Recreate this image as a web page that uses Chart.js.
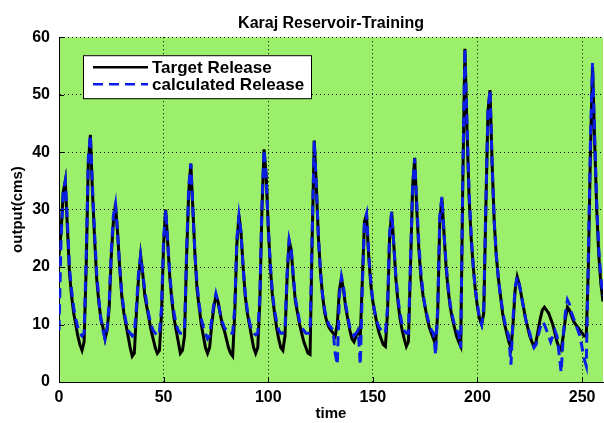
<!DOCTYPE html>
<html>
<head>
<meta charset="utf-8">
<title>Karaj Reservoir-Training</title>
<script src="https://cdn.jsdelivr.net/npm/chart.js@4.4.1/dist/chart.umd.min.js"></script>
<style>
  html, body { margin: 0; padding: 0; background: #fff; }
  #wrap { width: 604px; height: 423px; }
</style>
</head>
<body>
<div id="wrap"><canvas id="releaseChart" width="604" height="423"></canvas></div>
<script>
// values, one per time step (0..260)
const target = [
  22, 26, 33, 35, 27, 19, 15, 12, 10, 8,
  6.5, 5.5, 7, 20, 38, 43, 33, 25, 18, 14,
  11, 9.5, 7.5, 9, 13, 22, 28, 31, 26, 20,
  15, 12, 10, 8, 6, 4.5, 5, 12, 18, 22,
  19, 15, 13, 11, 9, 7.5, 6, 5, 5.5, 12,
  24, 30, 24, 18, 14, 11, 9, 7, 5, 5.5,
  8, 22, 33, 38, 30, 22, 16, 13, 10, 8,
  6, 5, 6, 10, 13, 15, 14, 12, 10, 9,
  7.5, 6, 5, 4.5, 12, 24, 29, 26, 20, 15,
  12, 10, 8, 6, 5, 6, 14, 30, 40.5, 36,
  27, 20, 15, 12, 9.5, 7.5, 6, 5.5, 8, 18,
  24.5, 23, 18, 14, 12, 10, 8.5, 7, 6, 5,
  4.8, 25, 42, 34, 25, 19, 15, 12, 10.5, 9.5,
  9, 8.5, 8, 10, 16, 18, 16, 13, 11, 9,
  7.5, 7, 8, 9, 8, 18, 28, 29, 22, 17,
  14, 12, 10, 8.5, 7.5, 6.5, 6.2, 12, 25, 29.6,
  24, 18, 14, 11, 9, 7.5, 6.2, 7, 20, 34,
  39, 30, 23, 18, 15, 13, 11, 9.5, 8.5, 7.5,
  6.5, 12, 28, 32, 26, 20, 16, 13, 11, 9.5,
  8, 7, 6.2, 35, 58, 44, 32, 25, 20, 16,
  13, 11, 10, 12, 30, 47, 50.8, 38, 28, 22,
  18, 15, 12, 10, 8.5, 7, 6, 10, 16, 18.3,
  17, 15, 13, 11, 9.5, 8, 7, 6.2, 7, 9,
  11, 12.5, 13, 12.5, 12, 11, 10, 8.5, 7, 6,
  5.6, 8, 11, 13, 12.5, 11.5, 10.5, 10, 9.5, 9,
  8.5, 8, 8, 20, 40, 55, 42, 30, 22, 17, 14
];

const calculated = [
  9, 25, 33, 35, 28, 20, 16, 13, 11, 9.5,
  8.5, 8, 8.5, 22, 39, 43, 34, 26, 19, 14.5,
  11, 9, 7.5, 9.5, 14, 23, 29, 31, 26, 20,
  15.5, 12.5, 10.5, 9, 8.5, 8, 8.5, 13, 19, 22,
  19, 16, 13.5, 11.5, 10, 9, 8.5, 8, 8.5, 13,
  25, 30, 24, 18.5, 14.5, 12, 10, 9, 8.5, 8.5,
  9, 23, 34, 38, 30, 22, 17, 13.5, 11, 9.5,
  8.5, 7.5, 8, 11, 13.5, 15.4, 14, 12, 10.5, 9.5,
  9, 8.5, 8.5, 8.5, 13, 25, 29, 26, 20, 15.5,
  12.5, 10.5, 9, 8.5, 8.2, 8.5, 15, 31, 40.5, 36,
  27, 20.5, 15.5, 12.5, 10.5, 9, 8.5, 8.5, 9, 19,
  24.7, 23, 18.5, 14.5, 12.5, 10.5, 9.5, 9, 8.5, 8.5,
  8.5, 26, 42, 34, 25, 19, 15, 12.5, 11, 10,
  9.5, 9, 5, 3, 15, 18.3, 16.5, 13.5, 11.5, 9.5,
  8.5, 8, 8.5, 9, 3, 17, 28, 29.3, 22.5, 17.5,
  14, 12, 10.5, 9.5, 9, 8.5, 8.5, 13, 26, 29.6,
  24, 18.5, 14.5, 12, 10, 9, 8.5, 8.5, 21, 34,
  38.9, 31, 24, 19, 15.5, 13, 11.5, 10, 9, 8.5,
  4.7, 13, 29, 32.2, 26, 20.5, 16.5, 13.5, 11.5, 10,
  9, 8.5, 5.9, 36, 58, 45, 33, 25.5, 20, 16,
  13.5, 11, 10, 13, 31, 47, 50.8, 38, 28, 22,
  18, 15, 12.5, 10.5, 9, 8, 3, 11, 16.5, 18.3,
  17, 15, 13, 11, 9.5, 8.5, 7, 6, 6.5, 8,
  9.5, 10.5, 10, 9, 8, 7, 8, 9, 8, 5,
  1.7, 8, 12, 14.3, 13.5, 12, 11, 10, 9, 8,
  6, 4, 2.8, 22, 42, 55.5, 43, 31, 23, 18, 15
];

const xTicks = [0, 50, 100, 150, 200, 250];
const yTicks = [0, 10, 20, 30, 40, 50, 60];
const seriesNames = ['Target Release', 'calculated Release'];

const toPoints = arr => arr.map((v, i) => ({ x: i, y: v }));

Chart.defaults.font.family = "'Liberation Sans', Arial, sans-serif";
Chart.defaults.font.weight = 'bold';
Chart.defaults.color = '#000';

// green plot background, inward ticks and the boxed legend
const matlabLook = {
  id: 'matlabLook',
  beforeDraw(chart) {
    const { ctx, chartArea: a } = chart;
    ctx.save();
    ctx.fillStyle = '#9cef6b';
    ctx.fillRect(a.left, a.top, a.right - a.left, a.bottom - a.top);
    ctx.restore();
  },
  afterDraw(chart) {
    const { ctx, chartArea: a, scales } = chart;
    ctx.save();
    ctx.strokeStyle = '#000';
    ctx.lineWidth = 1;
    ctx.beginPath();
    yTicks.forEach(v => {
      const y = Math.round(scales.y.getPixelForValue(v)) + 0.5;
      ctx.moveTo(a.left, y); ctx.lineTo(a.left + 5, y);
    });
    xTicks.forEach(v => {
      const x = Math.round(scales.x.getPixelForValue(v)) + 0.5;
      ctx.moveTo(x, a.bottom); ctx.lineTo(x, a.bottom - 5);
    });
    ctx.stroke();

    // legend box
    const bx = a.left + 24, by = a.top + 18, bw = 228, bh = 43;
    ctx.fillStyle = '#fff';
    ctx.fillRect(bx, by, bw, bh);
    ctx.strokeRect(bx + 0.5, by + 0.5, bw, bh);
    const rows = [by + 12, by + 29];
    chart.data.datasets.forEach((ds, i) => {
      ctx.beginPath();
      ctx.lineWidth = 2.5;
      ctx.strokeStyle = ds.borderColor;
      ctx.setLineDash(ds.borderDash || []);
      ctx.moveTo(bx + 10, rows[i]);
      ctx.lineTo(bx + 65, rows[i]);
      ctx.stroke();
      ctx.setLineDash([]);
      ctx.fillStyle = '#000';
      ctx.font = "bold 17px 'Liberation Sans', Arial, sans-serif";
      ctx.textBaseline = 'middle';
      ctx.fillText(ds.label, bx + 69, rows[i] + 1);
    });
    ctx.restore();
  }
};

const ctx = document.getElementById('releaseChart').getContext('2d');
const releaseChart = new Chart(ctx, {
  type: 'line',
  data: {
    datasets: [{
      label: seriesNames[0],
      data: toPoints(target),
      borderColor: '#000000',
      borderWidth: 3,
      pointRadius: 0,
      tension: 0,
      order: 2
    }, {
      label: seriesNames[1],
      data: toPoints(calculated),
      borderColor: '#0a1ee6',
      borderWidth: 3,
      borderDash: [10, 6],
      pointRadius: 0,
      tension: 0,
      order: 1
    }]
  },
  options: {
    responsive: false,
    animation: false,
    devicePixelRatio: 1,
    layout: { padding: { left: 0, right: 1, top: 0, bottom: 0 } },
    plugins: {
      legend: { display: false },
      tooltip: { enabled: false },
      title: {
        display: true,
        fullSize: false,
        text: 'Karaj Reservoir-Training',
        font: { size: 16, weight: 'bold' },
        color: '#000',
        padding: { top: 14, bottom: 4 }
      }
    },
    scales: {
      x: {
        type: 'linear',
        min: 0,
        max: 260,
        afterBuildTicks: s => { s.ticks = xTicks.map(v => ({ value: v })); },
        afterFit: s => { s.height = 41; },
        grid: { color: '#000', lineWidth: 1, drawTicks: false },
        border: { display: true, color: '#000', width: 1, dash: [1, 3] },
        ticks: { padding: 6, font: { size: 16, weight: 'bold' }, color: '#000', maxRotation: 0 },
        title: { display: true, text: 'time', font: { size: 15, weight: 'bold' }, color: '#000', padding: { top: 0, bottom: 0 } }
      },
      y: {
        min: 0,
        max: 60,
        afterBuildTicks: s => { s.ticks = yTicks.map(v => ({ value: v })); },
        afterFit: s => { s.width = 59; },
        grid: { color: '#000', lineWidth: 1, drawTicks: false },
        border: { display: true, color: '#000', width: 1, dash: [1, 3] },
        ticks: { padding: 9, font: { size: 16, weight: 'bold' }, color: '#000' },
        title: { display: true, text: 'output(cms)', font: { size: 15, weight: 'bold' }, color: '#000', padding: { top: 9, bottom: 0 } }
      }
    }
  },
  plugins: [matlabLook]
});
</script>
</body>
</html>
